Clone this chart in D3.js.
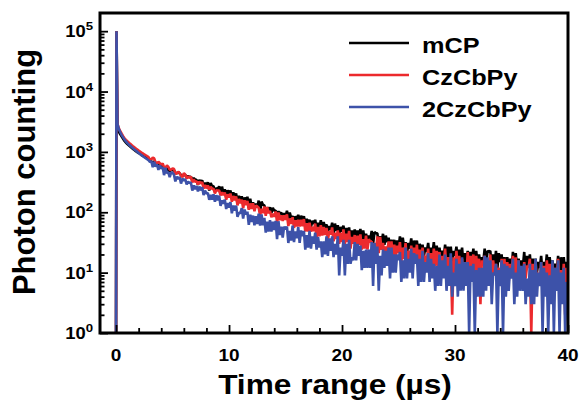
<!DOCTYPE html>
<html>
<head>
<meta charset="utf-8">
<script src="https://cdn.jsdelivr.net/npm/d3@7"></script>
<style>
  body { margin: 0; background: #fff; }
  text { font-family: "Liberation Sans", Arial, sans-serif; font-weight: bold; fill: #000; }
</style>
</head>
<body>
<div id="chart"></div>
<script>
let width = 581,
    height = 404;

// excitation pulse at t = 0, then one value per 0.125 us channel (0.125 ... 40 us)
const spikeTimes = [0, 0.04];
const spikeCounts = [1, 100000];
const channelWidth = 0.125;

const mcp = [
    2600, 2150, 1960, 1800, 1650, 1520, 1430, 1352, 1288, 1228, 1173, 1121, 1073, 1028, 992, 957, 922, 888, 862, 837, 807, 778, 759, 757,
    693, 662, 699, 665, 625, 595, 621, 614, 544, 545, 552, 547, 497, 479, 508, 495, 502, 446, 442, 468, 441, 414, 393, 420,
    418, 372, 403, 377, 388, 337, 370, 347, 346, 283, 343, 314, 339, 270, 308, 273, 315, 229, 305, 267, 272, 218, 254, 234,
    270, 194, 266, 210, 241, 177, 232, 200, 230, 171, 214, 172, 206, 138, 188, 148, 184, 137, 176, 147, 181, 116, 168, 123,
    146, 114, 139, 120, 156, 100, 150, 133, 130, 102, 121, 108, 121, 98, 118, 106, 107, 88, 104, 94, 99, 80, 97, 84,
    106, 78, 99, 80, 87, 68, 86, 75, 91, 66, 88, 71, 86, 63, 78, 65, 75, 57, 72, 64, 75, 55, 67, 56,
    74, 48, 69, 56, 63, 48, 59, 51, 67, 44, 65, 49, 61, 42, 57, 48, 60, 43, 55, 43, 56, 35, 50, 38,
    52, 37, 50, 40, 53, 33, 50, 35, 44, 33, 41, 35, 49, 30, 47, 45, 45, 29, 40, 31, 44, 29, 41, 32,
    38, 26, 35, 29, 35, 23, 34, 25, 40, 24, 38, 26, 32, 21, 31, 25, 37, 21, 34, 24, 34, 21, 30, 22,
    29, 19, 26, 22, 31, 18, 26, 20, 32, 16, 28, 20, 26, 17, 23, 18, 29, 15, 27, 18, 27, 15, 23, 19,
    27, 16, 24, 16, 26, 13, 21, 14, 23, 15, 22, 16, 25, 12, 23, 14, 20, 14, 18, 15, 25, 12, 23, 22,
    23, 12, 20, 13, 23, 12, 21, 15, 20, 11, 18, 13, 18, 10, 17, 11, 22, 11, 21, 12, 17, 10, 16, 12,
    22, 10, 19, 12, 20, 10, 17, 11, 17, 10, 15, 12, 19, 9, 15, 11, 20, 9, 18, 11, 16, 10, 14, 10,
    19, 8, 18, 11, 18, 9, 15, 11
];

const czcbpy = [
    2900, 2450, 2200, 2000, 1820, 1680, 1585, 1500, 1428, 1360, 1298, 1240, 1188, 1140, 1094, 1050, 1012, 975, 942, 910, 880, 850, 822, 747,
    748, 804, 778, 669, 647, 687, 650, 607, 645, 556, 532, 599, 564, 508, 506, 530, 526, 434, 440, 469, 448, 400, 385, 444,
    419, 363, 395, 372, 392, 313, 351, 319, 327, 290, 324, 298, 316, 247, 284, 249, 278, 238, 265, 244, 246, 205, 231, 230,
    230, 190, 214, 193, 212, 161, 198, 175, 204, 149, 186, 157, 183, 130, 166, 141, 162, 116, 158, 132, 154, 110, 140, 114,
    141, 104, 129, 125, 119, 89, 114, 97, 125, 87, 122, 96, 105, 83, 95, 84, 103, 69, 99, 74, 89, 72, 89, 75,
    92, 59, 79, 64, 83, 55, 74, 58, 75, 58, 75, 59, 77, 48, 66, 48, 67, 48, 57, 49, 65, 39, 57, 40,
    61, 41, 57, 42, 55, 35, 49, 43, 56, 33, 46, 36, 50, 30, 46, 32, 52, 30, 44, 32, 49, 25, 39, 30,
    42, 23, 41, 29, 43, 24, 36, 25, 41, 24, 36, 32, 33, 20, 31, 21, 40, 21, 39, 24, 31, 20, 27, 22,
    33, 16, 33, 18, 29, 19, 28, 21, 32, 15, 26, 17, 31, 15, 23, 16, 28, 17, 26, 17, 29, 13, 24, 14,
    26, 15, 19, 15, 25, 11, 21, 11, 25, 13, 23, 13, 22, 10, 19, 14, 25, 10, 18, 11, 18, 2, 18, 10,
    23, 11, 19, 11, 17, 8, 15, 8, 22, 10, 19, 11, 20, 9, 19, 10, 17, 3, 16, 13, 19, 8, 14, 10,
    20, 7, 16, 9, 14, 8, 12, 8, 17, 6, 17, 7, 15, 7, 14, 9, 19, 8, 18, 8, 16, 6, 12, 6,
    15, 8, 13, 12, 17, 1, 14, 6, 16, 7, 10, 7, 15, 5, 13, 6, 16, 7, 14, 7, 14, 5, 12, 8,
    17, 5, 11, 6, 14, 2, 12, 6
];

const czcbpy2 = [
    2900, 2400, 2120, 1900, 1740, 1600, 1495, 1400, 1330, 1265, 1206, 1150, 1099, 1050, 1004, 960, 921, 885, 849, 815, 784, 755, 727, 679,
    700, 558, 688, 568, 625, 505, 599, 526, 560, 412, 545, 444, 462, 383, 456, 451, 421, 324, 389, 358, 383, 299, 361, 336,
    354, 289, 322, 305, 313, 229, 278, 241, 271, 221, 267, 230, 259, 193, 228, 204, 208, 161, 195, 162, 198, 150, 192, 158,
    188, 128, 157, 138, 161, 113, 142, 120, 147, 96, 129, 106, 129, 84, 98, 96, 117, 79, 111, 92, 102, 62, 91, 69,
    88, 61, 86, 64, 95, 60, 92, 61, 81, 46, 70, 48, 74, 48, 70, 51, 72, 36, 71, 42, 58, 38, 58, 52,
    58, 31, 49, 34, 60, 32, 48, 37, 57, 31, 50, 40, 49, 24, 42, 26, 49, 25, 40, 30, 46, 24, 39, 26,
    33, 18, 33, 20, 40, 19, 37, 23, 40, 18, 30, 20, 40, 9, 26, 19, 35, 9, 30, 14, 35, 14, 18, 16,
    32, 16, 30, 19, 28, 11, 23, 12, 24, 12, 24, 12, 32, 6, 31, 14, 27, 5, 19, 9, 24, 12, 23, 13,
    26, 8, 26, 10, 20, 10, 20, 16, 22, 7, 16, 8, 26, 8, 17, 10, 25, 8, 21, 14, 20, 6, 17, 7,
    23, 7, 15, 10, 21, 7, 17, 8, 14, 5, 13, 6, 20, 6, 16, 8, 20, 5, 13, 6, 21, 4, 10, 6,
    17, 4, 14, 5, 18, 5, 15, 6, 15, 1, 13, 7, 14, 1, 11, 4, 12, 4, 12, 4, 19, 5, 18, 6,
    16, 3, 10, 9, 14, 1, 11, 6, 16, 1, 14, 4, 13, 5, 12, 8, 17, 3, 10, 4, 16, 5, 13, 5,
    14, 3, 8, 4, 14, 3, 11, 3, 17, 4, 10, 6, 15, 1, 12, 4, 10, 1, 9, 3, 16, 1, 12, 5,
    16, 1, 10, 3, 12, 1, 7, 4
];

const seriesNames = ["mCP", "CzCbPy", "2CzCbPy"];
const seriesColors = ["#000000", "#ec2a2d", "#3d52a9"];
const seriesValues = [mcp, czcbpy, czcbpy2];

const xTicks = [0, 10, 20, 30, 40];
const xMinorTicks = [2, 4, 6, 8, 12, 14, 16, 18, 22, 24, 26, 28, 32, 34, 36, 38];
const yTicks = [1, 10, 100, 1000, 10000, 100000];
const yExponents = ["0", "1", "2", "3", "4", "5"];

const xTitle = "Time range (\u00B5s)";
const yTitle = "Photon counting";

document.addEventListener('DOMContentLoaded', () => {
    let svg = d3.select("#chart").append("svg")
        .attr("width", width)
        .attr("height", height);

    const plot = { left: 100, right: 568, top: 13, bottom: 333 };

    const x = d3.scaleLinear().domain([-1.42, 40]).range([plot.left, plot.right]);
    const y = d3.scaleLog().domain([1, 2e5]).range([plot.bottom, plot.top]);

    svg.append("clipPath").attr("id", "clip")
        .append("rect")
        .attr("x", plot.left)
        .attr("y", plot.top)
        .attr("width", plot.right - plot.left)
        .attr("height", plot.bottom - plot.top);

    const line = d3.line()
        .x(d => x(d[0]))
        .y(d => y(d[1]));

    seriesValues.forEach((vals, k) => {
        const pts = spikeTimes.map((t, i) => [t, spikeCounts[i]])
            .concat(vals.map((v, i) => [(i + 1) * channelWidth, v]));
        svg.append("path")
            .datum(pts)
            .attr("d", line)
            .attr("clip-path", "url(#clip)")
            .style("fill", "none")
            .style("stroke", seriesColors[k])
            .style("stroke-width", 2.6)
            .style("stroke-linejoin", "bevel");
    });

    // ticks point inward
    const yMinor = [];
    yTicks.slice(0, -1).forEach(d => {
        for (let m = 2; m <= 9; m++) yMinor.push(d * m);
    });

    svg.append("g")
        .attr("transform", `translate(${plot.left},0)`)
        .call(d3.axisLeft(y).tickValues(yTicks).tickSize(-8).tickFormat(""))
        .call(g => g.select(".domain").remove());
    svg.append("g")
        .attr("transform", `translate(${plot.left},0)`)
        .call(d3.axisLeft(y).tickValues(yMinor).tickSize(-4.5).tickFormat(""))
        .call(g => g.select(".domain").remove());
    svg.append("g")
        .attr("transform", `translate(0,${plot.bottom})`)
        .call(d3.axisBottom(x).tickValues(xTicks).tickSize(-8).tickFormat(""))
        .call(g => g.select(".domain").remove());
    svg.append("g")
        .attr("transform", `translate(0,${plot.bottom})`)
        .call(d3.axisBottom(x).tickValues(xMinorTicks).tickSize(-5).tickFormat(""))
        .call(g => g.select(".domain").remove());
    svg.selectAll(".tick line").style("stroke", "#000").style("stroke-width", 1.8);

    // frame
    svg.append("rect")
        .attr("x", plot.left)
        .attr("y", plot.top)
        .attr("width", plot.right - plot.left)
        .attr("height", plot.bottom - plot.top)
        .style("fill", "none")
        .style("stroke", "#000")
        .style("stroke-width", 3);

    // y tick labels 10^n
    yTicks.forEach((d, i) => {
        let t = svg.append("text")
            .attr("transform", `translate(93,${y(d) + 6}) scale(1.15,1)`)
            .attr("text-anchor", "end");
        t.append("tspan").style("font-size", "16px").text("10");
        t.append("tspan").attr("dy", -7).style("font-size", "11.5px").text(yExponents[i]);
    });

    // x tick labels
    xTicks.forEach(d => {
        svg.append("text")
            .attr("transform", `translate(${x(d)},361) scale(1.15,1)`)
            .attr("text-anchor", "middle")
            .style("font-size", "16.5px")
            .text(d);
    });

    svg.append("text")
        .attr("transform", "translate(335,394) scale(1.15,1)")
        .attr("text-anchor", "middle")
        .style("font-size", "27.5px")
        .text(xTitle);

    svg.append("text")
        .attr("transform", "translate(35,172) rotate(-90)")
        .attr("text-anchor", "middle")
        .style("font-size", "31px")
        .text(yTitle);

    // legend
    const legendY = [43, 75, 107];
    seriesNames.forEach((name, i) => {
        svg.append("line")
            .attr("x1", 349).attr("x2", 409)
            .attr("y1", legendY[i]).attr("y2", legendY[i])
            .style("stroke", seriesColors[i])
            .style("stroke-width", 2.5);
        svg.append("text")
            .attr("transform", `translate(422,${legendY[i] + 9.5}) scale(1.15,1)`)
            .style("font-size", "22px")
            .text(name);
    });
});
</script>
</body>
</html>
